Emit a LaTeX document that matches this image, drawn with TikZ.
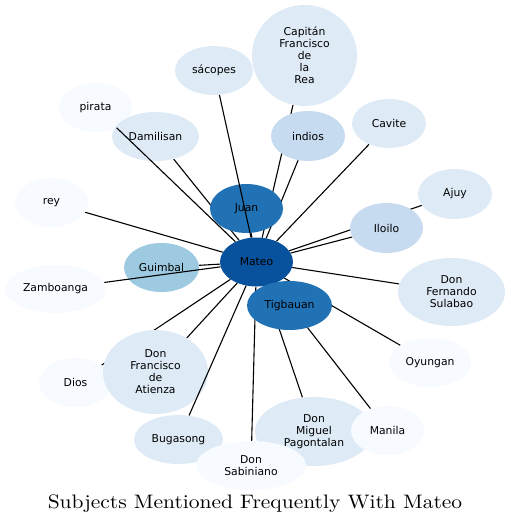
\documentclass[tikz,border=0pt]{standalone}
\usepackage{fontspec}
\usepackage{tikz}
\usetikzlibrary{shapes.geometric, backgrounds}
\newfontfamily\labelfont{DejaVu Sans}
\definecolor{blueA}{HTML}{08519C}
\definecolor{blueB}{HTML}{2171B5}
\definecolor{blueC}{HTML}{9ECAE1}
\definecolor{blueD}{HTML}{C6DBEF}
\definecolor{blueE}{HTML}{DEEBF7}
\definecolor{blueF}{HTML}{F7FBFF}
\tikzset{
  bub/.style={ellipse, inner sep=0pt, align=center, text=black,
              minimum width=73pt, minimum height=49pt,
              font=\labelfont\fontsize{10.8}{12}\selectfont},
  edge/.style={draw=black, line width=1.1pt},
}

\begin{document}
\begin{tikzpicture}[x=1pt, y=-1pt]
  \useasboundingbox (0,0) rectangle (510,526);

  \node[bub, fill=blueA] (mateo) at (256.5,262) {Mateo};
  \node[bub, fill=blueB] (juan) at (246.5,208.5) {Juan};
  \node[bub, fill=blueB, minimum width=85pt] (tigbauan) at (289.5,305.5) {Tigbauan};
  \node[bub, fill=blueC, minimum width=75pt] (guimbal) at (161.5,267.5) {Guimbal};
  \node[bub, fill=blueD, minimum width=74pt, minimum height=50pt] (indios) at (308,136) {indios};
  \node[bub, fill=blueD, minimum height=50pt] (iloilo) at (386.5,228) {Iloilo};
  \node[bub, fill=blueE, minimum width=78pt] (sacopes) at (214,70.5) {sácopes};
  \node[bub, fill=blueF] (pirata) at (95.5,107.5) {pirata};
  \node[bub, fill=blueE, minimum width=87pt] (damilisan) at (155.5,136.5) {Damilisan};
  \node[bub, fill=blueF] (rey) at (51.5,202.5) {rey};
  \node[bub, fill=blueF, minimum width=101pt, minimum height=48pt] (zamboanga) at (55.5,289) {Zamboanga};
  \node[bub, fill=blueF] (dios) at (75.5,382.5) {Dios};
  \node[bub, fill=blueE, minimum width=105pt, minimum height=84pt] (francisco) at (155.5,372) {Don\\Francisco\\de\\Atienza};
  \node[bub, fill=blueE, minimum width=89pt] (bugasong) at (178.5,439.5) {Bugasong};
  \node[bub, fill=blueE, minimum width=118pt, minimum height=69pt] (miguel) at (314,431.5) {Don\\Miguel\\Pagontalan};
  \node[bub, fill=blueF, minimum width=110pt] (sabiniano) at (251,465.5) {Don\\Sabiniano};
  \node[bub, fill=blueF] (manila) at (387.5,430.5) {Manila};
  \node[bub, fill=blueF, minimum width=82pt] (oyungan) at (430,362.5) {Oyungan};
  \node[bub, fill=blueE, minimum width=107pt, minimum height=68pt] (fernando) at (451.5,292) {Don\\Fernando\\Sulabao};
  \node[bub, fill=blueE, minimum width=74pt, minimum height=50pt] (ajuy) at (455,194) {Ajuy};
  \node[bub, fill=blueE, minimum width=74pt] (cavite) at (389,123.5) {Cavite};
  \node[bub, fill=blueE, minimum width=105pt, minimum height=101pt] (capitan) at (304.5,55.5) {Capitán\\Francisco\\de\\la\\Rea};

  \node (title) at (255,504) {\scalebox{2.15}[1.95]{Subjects Mentioned Frequently With Mateo}};

  % edges hidden under the bubbles they cross
  \begin{scope}[on background layer]
    \draw[edge] (mateo) -- (juan);
    \draw[edge] (mateo) -- (tigbauan);
    \draw[edge] (mateo) -- (guimbal);
    \draw[edge] (mateo) -- (indios);
    \draw[edge] (mateo) -- (iloilo);
    \draw[edge] (mateo) -- (damilisan);
    \draw[edge] (mateo) -- (rey);
    \draw[edge] (mateo) -- (dios);
    \draw[edge] (mateo) -- (francisco);
    \draw[edge] (mateo) -- (miguel);
    \draw[edge] (mateo) -- (sabiniano);
    \draw[edge] (mateo) -- (manila);
    \draw[edge] (mateo) -- (oyungan);
    \draw[edge] (mateo) -- (fernando);
    \draw[edge] (mateo) -- (ajuy);
    \draw[edge] (mateo) -- (cavite);
    \draw[edge] (mateo) -- (capitan);
  \end{scope}
  % edges drawn over the bubbles they cross
  \draw[edge] (mateo) -- (sacopes);
  \draw[edge] (mateo) -- (pirata);
  \draw[edge] (mateo) -- (zamboanga);
  \draw[edge] (mateo) -- (bugasong);
\end{tikzpicture}
\end{document}
